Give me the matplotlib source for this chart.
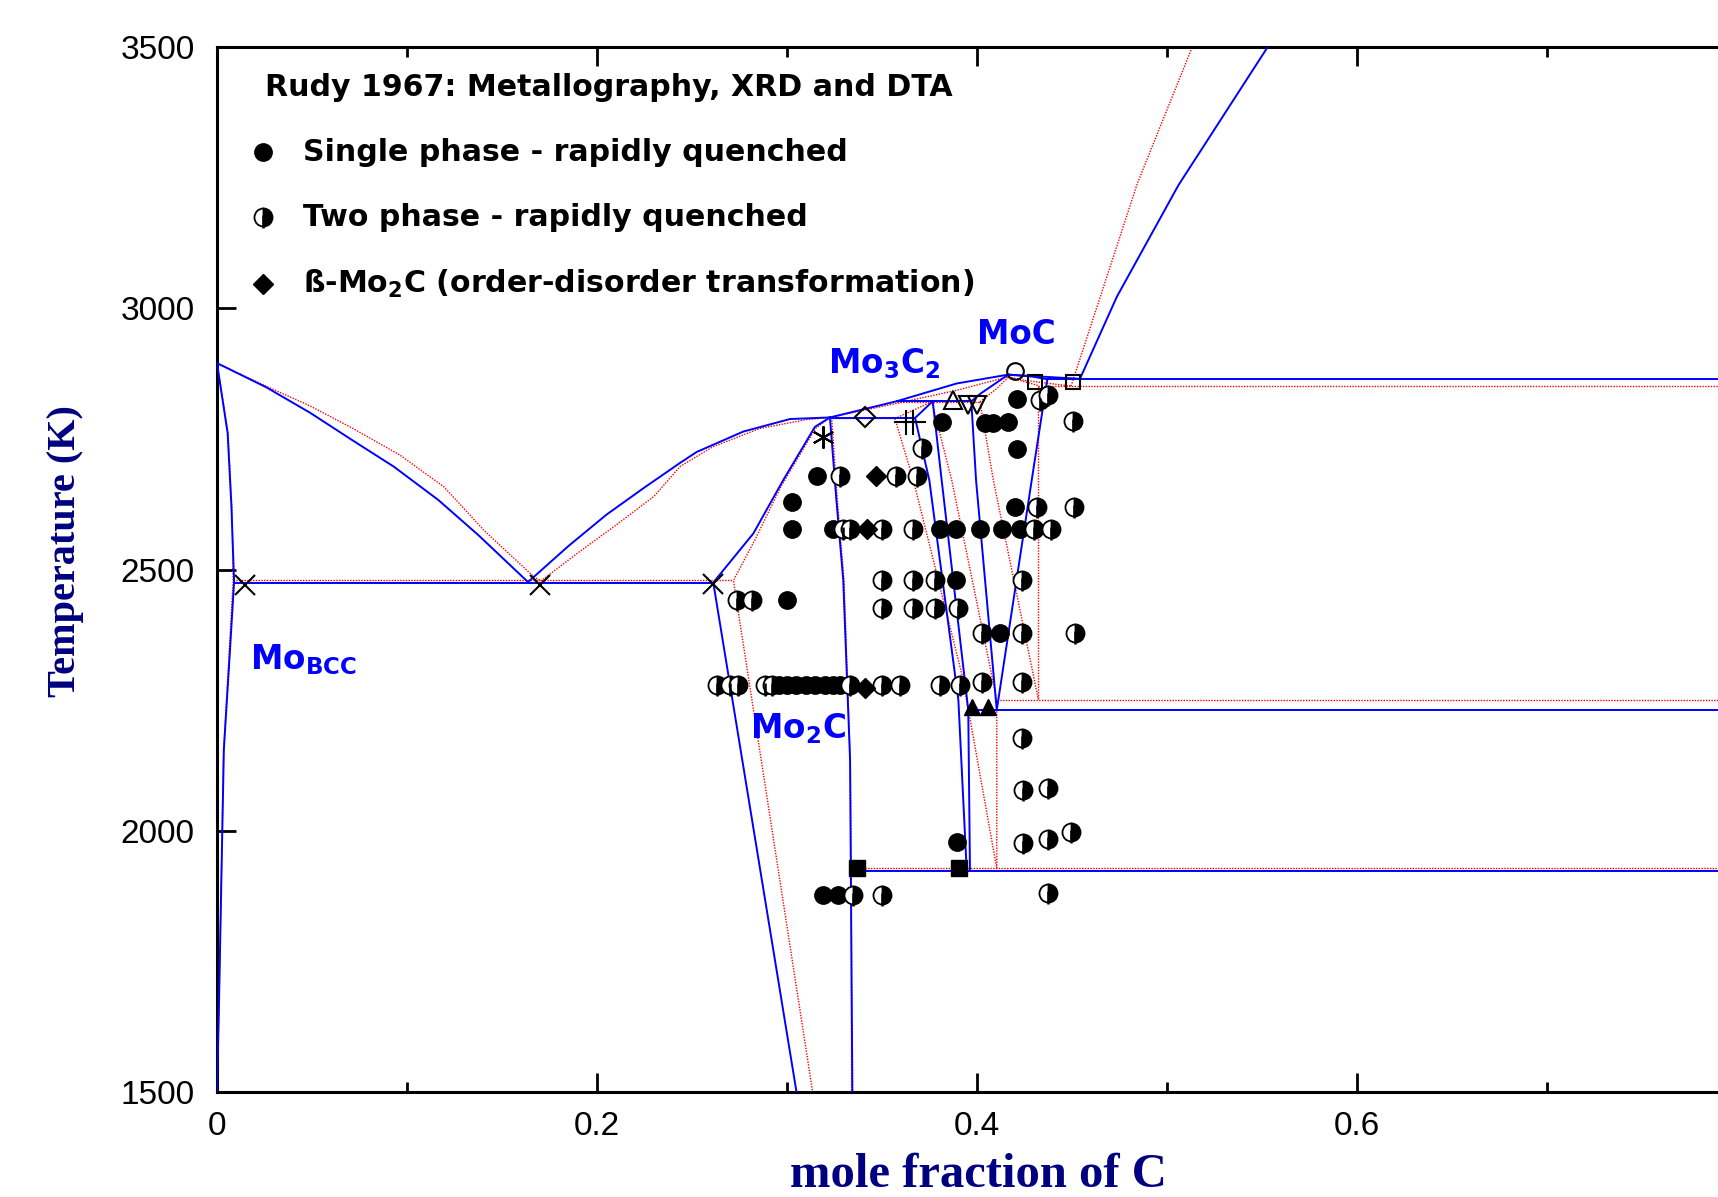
import numpy as np
import matplotlib
matplotlib.use("Agg")
import matplotlib.pyplot as plt
from matplotlib.path import Path

# ---------- phase boundaries, calculation 1 (blue solid) ----------
bcc_liq_b = ([0.0, 0.0258, 0.049, 0.071, 0.093, 0.1165, 0.1375, 0.1637],
             [2895, 2849, 2800, 2748, 2697, 2633, 2566, 2476])
bcc_sol_b = ([0.0, 0.0056, 0.0076, 0.009, 0.0063, 0.0036, 0.001, 0.0],
             [2895, 2761, 2620, 2477, 2314, 2155, 1660, 1500])
eut1_b = ([0.009, 0.2612], [2475, 2475])
mo2c_liq_b = ([0.1637, 0.185, 0.205, 0.225, 0.2437, 0.2525, 0.277, 0.3016, 0.3226],
              [2476, 2545, 2605, 2657, 2704, 2725, 2764, 2788, 2791])
mo2c_left_b = ([0.3226, 0.3147, 0.298, 0.2823, 0.2612, 0.305],
               [2791, 2773, 2671, 2569, 2475, 1500])
mo2c_right_b = ([0.3226, 0.326, 0.3296, 0.3332, 0.3336, 0.3344],
                [2791, 2633, 2480, 2135, 1923, 1500])
per1_b = ([0.3226, 0.3674], [2790, 2790])
mo3c2_top_b = ([0.3674, 0.3767], [2790, 2822])
mo3c2_left_b = ([0.3674, 0.3749, 0.3902, 0.3946], [2790, 2671, 2250, 1923])
mo3c2_right_b = ([0.3767, 0.3814, 0.3954, 0.3963], [2822, 2671, 2231, 1923])
per2_b = ([0.3577, 0.397], [2822, 2822])
liq_top_b = ([0.3226, 0.3577, 0.3893, 0.4165, 0.4297, 0.4542],
             [2791, 2822, 2856, 2873, 2870, 2865])
moc_sol_b = ([0.397, 0.4016, 0.4165, 0.4297, 0.437], [2822, 2836, 2873, 2869, 2864])
moc_left_b = ([0.397, 0.3995, 0.4104], [2822, 2671, 2231])
moc_right_b = ([0.437, 0.4288, 0.4104], [2864, 2671, 2231])
eut2_b = ([0.437, 0.8], [2864, 2864])
eutd1_b = ([0.3954, 0.8], [2231, 2231])
eutd2_b = ([0.3336, 0.8], [1923, 1923])
c_liq_b = ([0.4542, 0.4736, 0.5061, 0.553], [2865, 3022, 3236, 3500])

# ---------- phase boundaries, calculation 2 (red dotted) ----------
bcc_liq_r = ([0.0, 0.0258, 0.049, 0.071, 0.0963, 0.1195, 0.1405, 0.1668, 0.1705],
             [2895, 2851, 2813, 2771, 2719, 2658, 2575, 2486, 2478])
bcc_sol_r = ([0.0, 0.0058, 0.0078, 0.0085, 0.006, 0.0035, 0.001, 0.0],
             [2895, 2761, 2620, 2479, 2314, 2155, 1660, 1500])
eut1_r = ([0.0085, 0.2718], [2479, 2479])
mo2c_liq_r = ([0.1705, 0.19, 0.21, 0.23, 0.2437, 0.261, 0.2858, 0.3104, 0.3226],
              [2478, 2532, 2585, 2640, 2697, 2735, 2770, 2787, 2791])
mo2c_left_r = ([0.3226, 0.315, 0.297, 0.283, 0.2718, 0.3135],
               [2791, 2770, 2660, 2556, 2479, 1500])
mo2c_right_r = ([0.3235, 0.3265, 0.33, 0.3333, 0.3338, 0.334],
                [2791, 2633, 2480, 2135, 1928, 1500])
per1_r = ([0.3226, 0.3568], [2789, 2789])
mo3c2_top_r = ([0.3568, 0.3762], [2789, 2821])
mo3c2_left_r = ([0.3568, 0.3665, 0.392, 0.3955, 0.4104], [2789, 2671, 2300, 2231, 1928])
mo3c2_right_r = ([0.3762, 0.3867, 0.4104, 0.4104], [2821, 2671, 2251, 1928])
per2_r = ([0.3577, 0.4016], [2821, 2821])
liq_top_r = ([0.3226, 0.3577, 0.3893, 0.4165, 0.425, 0.4495],
             [2791, 2818, 2843, 2869, 2862, 2851])
moc_sol_r = ([0.4016, 0.41, 0.4165, 0.4323], [2821, 2845, 2868, 2852])
moc_left_r = ([0.4016, 0.4086, 0.4323], [2821, 2671, 2251])
moc_right_r = ([0.4323, 0.4323], [2852, 2251])
eut2_r = ([0.4323, 0.8], [2851, 2851])
eutd1_r = ([0.4104, 0.8], [2251, 2251])
eutd2_r = ([0.3338, 0.8], [1928, 1928])
c_liq_r = ([0.4495, 0.4844, 0.5133], [2851, 3239, 3500])

blue_lines = [bcc_liq_b, bcc_sol_b, eut1_b, mo2c_liq_b, mo2c_left_b, mo2c_right_b,
              per1_b, mo3c2_top_b, mo3c2_left_b, mo3c2_right_b, per2_b, liq_top_b,
              moc_sol_b, moc_left_b, moc_right_b, eut2_b, eutd1_b, eutd2_b, c_liq_b]
red_lines = [bcc_liq_r, bcc_sol_r, eut1_r, mo2c_liq_r, mo2c_left_r, mo2c_right_r,
             per1_r, mo3c2_top_r, mo3c2_left_r, mo3c2_right_r, per2_r, liq_top_r,
             moc_sol_r, moc_left_r, moc_right_r, eut2_r, eutd1_r, eutd2_r, c_liq_r]

# ---------- Rudy 1967 experimental points ----------
single_x = [0.3814, 0.4042, 0.4086, 0.4165, 0.4209, 0.4209, 0.3156, 0.3025, 0.4200,
            0.3025, 0.3244, 0.3805, 0.3889, 0.4016, 0.4130, 0.4226,
            0.3890, 0.2998, 0.4121,
            0.296, 0.300, 0.305, 0.310, 0.315, 0.320, 0.324, 0.328,
            0.3893, 0.3191, 0.3270]
single_T = [2783, 2781, 2781, 2783, 2826, 2730, 2678, 2630, 2620,
            2577, 2577, 2577, 2577, 2577, 2577, 2577,
            2480, 2442, 2379,
            2279, 2279, 2279, 2279, 2279, 2279, 2279, 2279,
            1979, 1877, 1877]

two_x = [0.4332, 0.4375, 0.4507, 0.3709, 0.3279, 0.3574, 0.3682, 0.4314, 0.4512,
         0.3296, 0.3331, 0.3498, 0.3665, 0.4300, 0.4392,
         0.3498, 0.3665, 0.3779, 0.4235,
         0.2735, 0.2814,
         0.3498, 0.3665, 0.3779, 0.3902,
         0.4025, 0.4235, 0.4516,
         0.2630, 0.2700, 0.2744, 0.2884, 0.2919, 0.3332, 0.3498, 0.3595, 0.3805, 0.3911,
         0.4025, 0.4235,
         0.4235, 0.4240, 0.4372, 0.4244, 0.4372, 0.4495,
         0.3349, 0.3498, 0.4372]
two_T = [2824, 2834, 2785, 2732, 2679, 2679, 2679, 2619, 2620,
         2577, 2577, 2577, 2577, 2577, 2577,
         2479, 2479, 2479, 2479,
         2442, 2442,
         2427, 2427, 2427, 2426,
         2379, 2379, 2379,
         2279, 2279, 2279, 2279, 2279, 2279, 2279, 2279, 2279, 2279,
         2285, 2285,
         2177, 2078, 2081, 1976, 1985, 1998,
         1877, 1877, 1881]

beta_x = [0.3468, 0.3419, 0.3410]
beta_T = [2678, 2577, 2273]

# DTA / invariant points
open_circle = ([0.4200], [2879])
open_square = ([0.4305, 0.4507], [2859, 2859])
open_tri_up = ([0.3872], [2824])
open_tri_down = ([0.3955, 0.3998], [2815, 2815])
open_diamond = ([0.3411], [2792])
plus_pts = ([0.3626, 0.3661], [2783, 2783])
star_pts = ([0.3191], [2754])
cross_pts = ([0.0147, 0.170, 0.2611], [2470, 2470, 2473])
filled_tri = ([0.3972, 0.4060], [2237, 2237])
filled_square = ([0.3367, 0.3907], [1928, 1928])

# ---------- figure ----------
fig = plt.figure(figsize=(17.18, 11.97), dpi=100)
ax = fig.add_axes([217 / 1718, 105 / 1197, 1520 / 1718, 1045 / 1197])

for xs, ts in red_lines:
    ax.plot(xs, ts, color='#ff0000', lw=1.0, ls=(0, (1, 1)), zorder=2)
for xs, ts in blue_lines:
    ax.plot(xs, ts, color='#0000ff', lw=1.4, zorder=3)

stem = Path([(0, 0.2), (0, -1.0)], [Path.MOVETO, Path.LINETO])


def half_marker(x, y, ms=13, **kw):
    ax.plot(x, y, ls='none', marker='o', ms=ms, fillstyle='right', mfc='black',
            mfcalt='white', mec='black', mew=1.3, zorder=5, **kw)
    ax.plot(x, y, ls='none', marker=stem, ms=ms * 1.25, mec='black', mew=1.8,
            zorder=6, **kw)


ax.plot(single_x, single_T, ls='none', marker='o', ms=12.5, color='black', zorder=5)
half_marker(two_x, two_T)
ax.plot(beta_x, beta_T, ls='none', marker='D', ms=10, color='black', zorder=5)

opn = dict(ls='none', mfc='none', mec='black', mew=1.5, zorder=6)
ax.plot(*open_circle, marker='o', ms=12, **opn)
ax.plot(*open_square, marker='s', ms=10, **opn)
ax.plot(*open_tri_up, marker='^', ms=13, **opn)
ax.plot(*open_tri_down, marker='v', ms=13, **opn)
ax.plot(*open_diamond, marker='D', ms=10, **opn)
ax.plot(*plus_pts, marker='+', ms=18, **opn)
ax.plot(*star_pts, marker=(6, 2, 0), ms=16, **opn)
ax.plot(*cross_pts, marker='x', ms=14, **opn)
ax.plot(*filled_tri, ls='none', marker='^', ms=12, color='black', zorder=6)
ax.plot(*filled_square, ls='none', marker='s', ms=11, color='black', zorder=6)

# phase labels
lab = dict(color='#0000ff', fontsize=23.5, fontweight='bold', ha='center', va='center',
           zorder=7)
ax.text(0.0455, 2328, r'$\mathbf{Mo}_{\mathbf{BCC}}$', **lab)
ax.text(0.351, 2894, r'$\mathbf{Mo_3C_2}$', **lab)
ax.text(0.4207, 2949, 'MoC', **lab)
ax.text(0.306, 2196, r'$\mathbf{Mo_2C}$', **lab)

# legend drawn by hand in axes coordinates
ax.text(0.0316, 0.961, 'Rudy 1967: Metallography, XRD and DTA', transform=ax.transAxes,
        fontsize=21.6, fontweight='bold', va='center', ha='left')
rows = [0.8995, 0.8373, 0.7732]
ax.plot([0.0303], [rows[0]], transform=ax.transAxes, marker='o', ms=12.5,
        color='black', clip_on=False)
ax.plot([0.0303], [rows[1]], transform=ax.transAxes, ls='none', marker='o', ms=13,
        fillstyle='right', mfc='black', mfcalt='white', mec='black', mew=1.3)
ax.plot([0.0303], [rows[1]], transform=ax.transAxes, ls='none', marker=stem,
        ms=13 * 1.25, mec='black', mew=1.8)
ax.plot([0.0303], [rows[2]], transform=ax.transAxes, marker='D', ms=10, color='black')
legend_texts = ['Single phase - rapidly quenched', 'Two phase - rapidly quenched',
                r'ß-Mo$_{\mathbf{2}}$C (order-disorder transformation)']
for yy, tt in zip(rows, legend_texts):
    ax.text(0.0569, yy, tt, transform=ax.transAxes, fontsize=21.6, fontweight='bold',
            va='center', ha='left')

# axes
ax.set_xlim(0, 0.8)
ax.set_ylim(1500, 3500)
ax.set_xticks([0, 0.2, 0.4, 0.6])
ax.set_xticklabels(['0', '0.2', '0.4', '0.6'])
ax.set_xticks([0.1, 0.3, 0.5, 0.7], minor=True)
ax.set_yticks([1500, 2000, 2500, 3000, 3500])
ax.set_yticklabels(['1500', '2000', '2500', '3000', '3500'])
ax.tick_params(which='both', direction='in', top=True, right=False, width=2)
ax.tick_params(which='major', length=14)
ax.tick_params(which='minor', length=7)
ax.tick_params(axis='x', pad=14)
ax.tick_params(axis='y', pad=16)
for lb in ax.get_xticklabels() + ax.get_yticklabels():
    lb.set_fontfamily('Liberation Sans')
    lb.set_fontsize(24)
for sp in ['left', 'bottom', 'top']:
    ax.spines[sp].set_linewidth(2.2)
ax.spines['right'].set_visible(False)

ax.set_xlabel('mole fraction of C', fontfamily='Liberation Serif', fontweight='bold',
              fontsize=35, color='#000080')
ax.xaxis.set_label_coords(0.501, -0.0795)
ax.xaxis.label.set_va('center')
ax.set_ylabel('Temperature (K)', fontfamily='Liberation Serif', fontweight='bold',
              fontsize=29, color='#000080')
ax.yaxis.set_label_coords(-0.0995, 0.518)
ax.yaxis.label.set_va('center')

fig.savefig('out.png', dpi=100)
